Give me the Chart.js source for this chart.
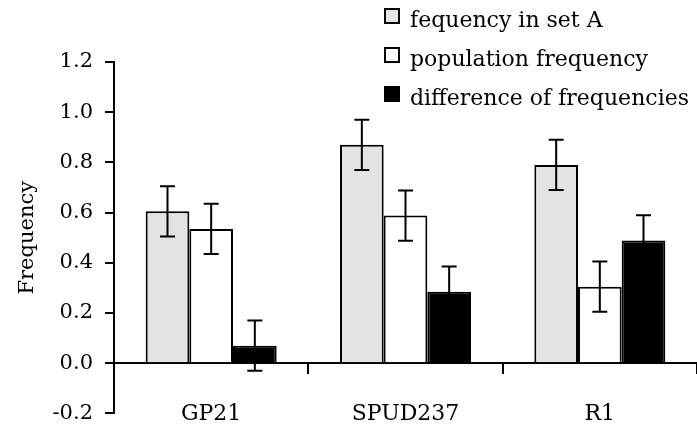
<!DOCTYPE html>
<html lang="en">
<head>
    <meta charset="UTF-8">
    <title>Frequency</title>
    <script src="https://cdn.jsdelivr.net/npm/chart.js"></script>
    <style>
        html, body {
            margin: 0;
            padding: 0;
            background: #fff;
        }

        #wrap {
            width: 697px;
            height: 438px;
        }
    </style>
</head>
<body>
    <div id="wrap">
        <canvas id="freqChart" width="697" height="438"></canvas>
    </div>
    <script>
        // chart data
        const categories = ['GP21', 'SPUD237', 'R1'];
        const seriesNames = ['fequency in set A', 'population frequency', 'difference of frequencies'];
        const setA = [0.605, 0.87, 0.79];
        const population = [0.535, 0.588, 0.305];
        const difference = [0.07, 0.285, 0.489];
        const setAErr = [0.1, 0.1, 0.1];
        const populationErr = [0.1, 0.1, 0.1];
        const differenceErr = [0.1, 0.1, 0.1];
        const yTicks = [-0.2, 0.0, 0.2, 0.4, 0.6, 0.8, 1.0, 1.2];

        const serif = "'DejaVu Serif', serif";

        // error bars drawn on top of each bar
        const errorBars = {
            id: 'errorBars',
            afterDatasetsDraw(chart) {
                const ctx = chart.ctx;
                const y = chart.scales.y;
                chart.data.datasets.forEach((ds, i) => {
                    const meta = chart.getDatasetMeta(i);
                    meta.data.forEach((bar, j) => {
                        const v = ds.data[j];
                        const e = ds.errors[j];
                        const top = y.getPixelForValue(v + e);
                        const bot = y.getPixelForValue(v - e);
                        const cap = 7.5;
                        ctx.save();
                        ctx.strokeStyle = '#000';
                        ctx.lineWidth = 2;
                        ctx.beginPath();
                        ctx.moveTo(bar.x, top);
                        ctx.lineTo(bar.x, bot);
                        ctx.moveTo(bar.x - cap, top);
                        ctx.lineTo(bar.x + cap, top);
                        ctx.moveTo(bar.x - cap, bot);
                        ctx.lineTo(bar.x + cap, bot);
                        ctx.stroke();
                        ctx.restore();
                    });
                });
            }
        };

        // stacked legend in the top right corner
        const stackedLegend = {
            id: 'stackedLegend',
            afterDraw(chart) {
                const ctx = chart.ctx;
                const x = 384;
                const rows = [8, 47, 86];
                ctx.save();
                ctx.font = '22px ' + serif;
                ctx.textBaseline = 'alphabetic';
                ctx.textAlign = 'left';
                chart.data.datasets.forEach((ds, i) => {
                    const t = rows[i];
                    ctx.fillStyle = ds.backgroundColor;
                    ctx.fillRect(x, t, 16, 16);
                    ctx.strokeStyle = '#000';
                    ctx.lineWidth = 2;
                    ctx.strokeRect(x + 1, t + 1, 14, 14);
                    ctx.fillStyle = '#000';
                    ctx.fillText(ds.label, 410, t + 19);
                });
                ctx.restore();
            }
        };

        const makeSet = (label, data, errors, fill) => ({
            label: label,
            data: data,
            errors: errors,
            backgroundColor: fill,
            borderColor: '#000',
            borderWidth: 2,
            barPercentage: 1.0,
            categoryPercentage: 0.674
        });

        new Chart(document.getElementById('freqChart'), {
            type: 'bar',
            data: {
                labels: categories,
                datasets: [
                    makeSet(seriesNames[0], setA, setAErr, '#e3e3e3'),
                    makeSet(seriesNames[1], population, populationErr, '#ffffff'),
                    makeSet(seriesNames[2], difference, differenceErr, '#000000')
                ]
            },
            options: {
                responsive: false,
                animation: false,
                layout: {
                    padding: { top: 62, bottom: 10, left: 0, right: 0 }
                },
                plugins: {
                    legend: { display: false },
                    tooltip: { enabled: false }
                },
                scales: {
                    x: {
                        position: { y: 0 },
                        offset: true,
                        grid: {
                            display: true,
                            offset: true,
                            drawOnChartArea: false,
                            color: '#000',
                            lineWidth: 2,
                            tickLength: 10
                        },
                        border: { color: '#000', width: 2 },
                        ticks: {
                            color: '#000',
                            font: { family: serif, size: 22 },
                            padding: 28
                        }
                    },
                    y: {
                        min: -0.2,
                        max: 1.2,
                        afterFit(scale) {
                            scale.width = 114;
                        },
                        afterBuildTicks(scale) {
                            scale.ticks = yTicks.map(v => ({ value: v }));
                        },
                        grid: {
                            drawOnChartArea: false,
                            color: '#000',
                            lineWidth: 2,
                            tickLength: 9
                        },
                        border: { color: '#000', width: 2 },
                        ticks: {
                            color: '#000',
                            font: { family: serif, size: 21 },
                            padding: 12,
                            callback: v => v.toFixed(1)
                        },
                        title: {
                            display: true,
                            text: 'Frequency',
                            color: '#000',
                            font: { family: serif, size: 21 },
                            padding: { top: 15, bottom: 0 }
                        }
                    }
                }
            },
            plugins: [errorBars, stackedLegend]
        });
    </script>
</body>
</html>
